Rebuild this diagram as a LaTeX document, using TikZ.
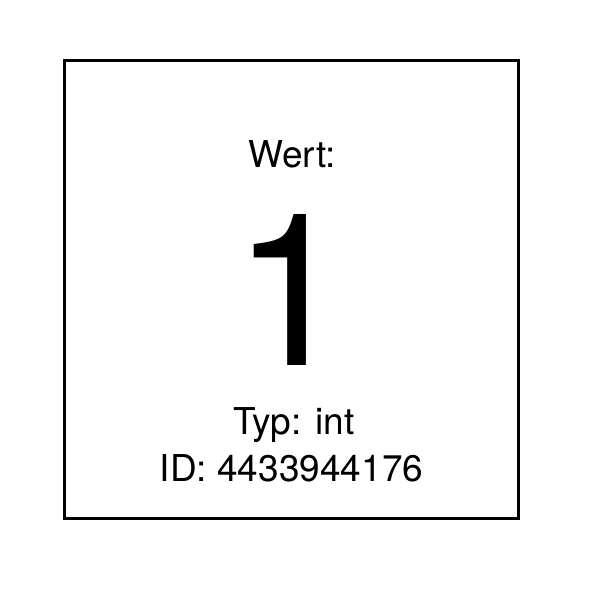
\documentclass[tikz,border=0pt]{standalone}
\usepackage{fontspec}
\setmainfont{TeX Gyre Heros}
\begin{document}
\begin{tikzpicture}[x=1pt,y=-1pt,
  lbl/.style={inner sep=0pt,anchor=base,font=\fontsize{37}{42}\selectfont},
  big/.style={inner sep=0pt,anchor=base,text depth=0pt,font=\fontsize{213}{240}\selectfont}]
\useasboundingbox (0,0) rectangle (600,600);
\node[draw,line width=2.5,minimum width=454,minimum height=458,inner sep=0pt] (box) at (291.5,289.5) {};
\node[lbl] (wert) at (292,167) {Wert:};
\node[big] (val) at (292,365) {1};
\node[lbl] (typ) at (294,434) {Typ: int};
\node[lbl] (id) at (291.5,481.5) {ID: 4433944176};
\end{tikzpicture}
\end{document}
